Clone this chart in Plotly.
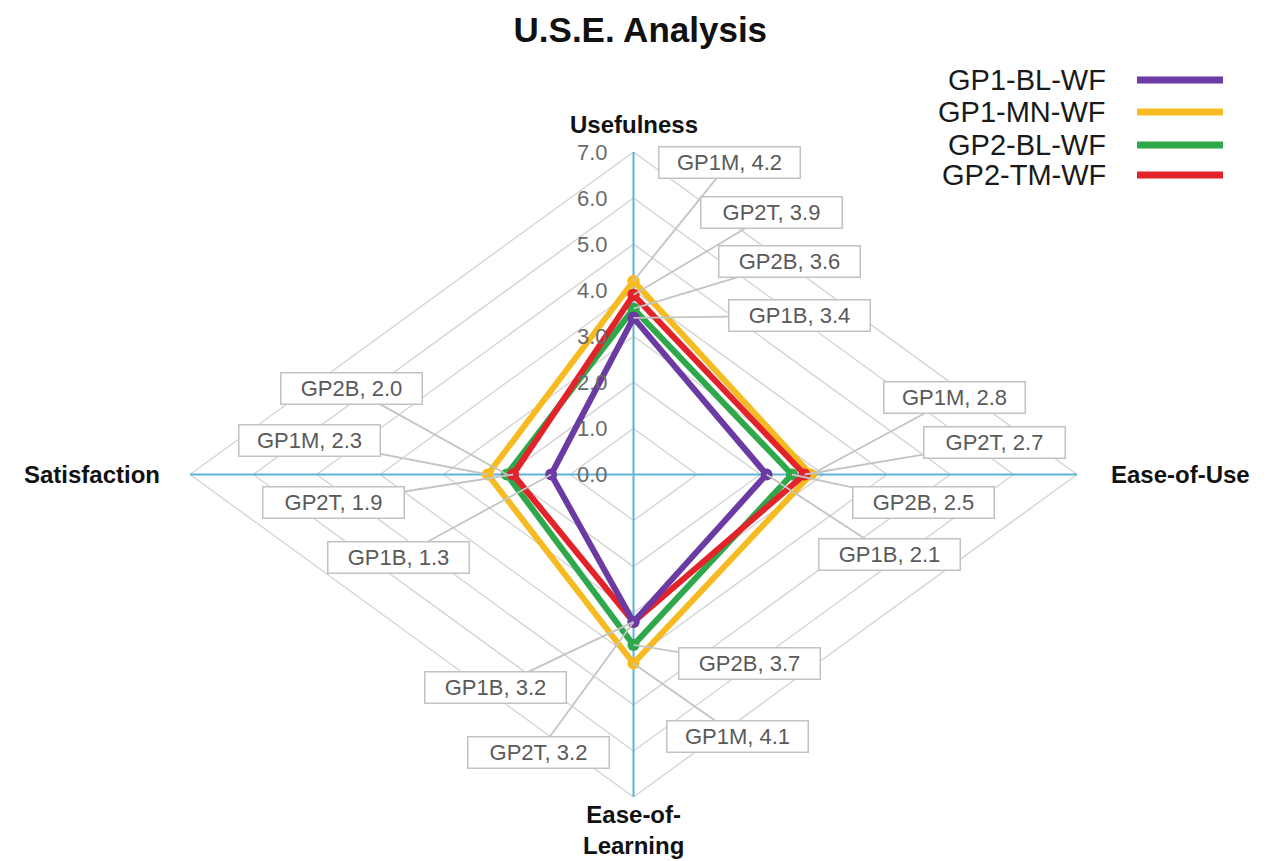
import plotly.graph_objects as go

# ---------------- data ----------------
chart_title = "U.S.E. Analysis"
axis_names = ["Usefulness", "Ease-of-Use", "Ease-of-Learning", "Satisfaction"]
axis_label_text = ["Usefulness", "Ease-of-Use", "Ease-of-<br>Learning", "Satisfaction"]
series_names = ["GP1-BL-WF", "GP1-MN-WF", "GP2-BL-WF", "GP2-TM-WF"]
short_names = ["GP1B", "GP1M", "GP2B", "GP2T"]
gp1_bl_wf = [3.4, 2.1, 3.2, 1.3]
gp1_mn_wf = [4.2, 2.8, 4.1, 2.3]
gp2_bl_wf = [3.6, 2.5, 3.7, 2.0]
gp2_tm_wf = [3.9, 2.7, 3.2, 1.9]
tick_values = [0, 1, 2, 3, 4, 5, 6, 7]

series_values = [gp1_bl_wf, gp1_mn_wf, gp2_bl_wf, gp2_tm_wf]

# ---------------- styles / layout ----------------
series_colors = ["#6b3aa3", "#f6bb21", "#2ea84a", "#e3232a"]
draw_order = [1, 2, 3, 0]
axis_dirs = [(0, 1), (1, 0), (0, -1), (-1, 0)]   # top, right, bottom, left
r_max = 7

# label box centres (data units of the chart plane), per series, per axis
label_pos = [
    [(2.62, 3.45), (4.04, -1.74), (-2.18, -4.62), (-3.71, -1.80)],   # GP1B
    [(1.51, 6.77), (5.06, 1.67), (1.64, -5.68), (-5.11, 0.74)],      # GP1M
    [(2.46, 4.62), (4.57, -0.61), (1.83, -4.10), (-4.45, 1.87)],     # GP2B
    [(2.18, 5.68), (5.69, 0.69), (-1.50, -6.03), (-4.73, -0.61)],    # GP2T
]

FONT = "Liberation Sans, Arial, sans-serif"
W, H = 1273, 861

fig = go.Figure()

# grid diamonds
for lv in tick_values[1:]:
    gx = [dx * lv for dx, dy in axis_dirs] + [axis_dirs[0][0] * lv]
    gy = [dy * lv for dx, dy in axis_dirs] + [axis_dirs[0][1] * lv]
    fig.add_trace(go.Scatter(x=gx, y=gy, mode="lines",
                             line=dict(color="#d2d2d2", width=1.3),
                             hoverinfo="skip", showlegend=False))

# axis spokes
for dx, dy in axis_dirs:
    fig.add_trace(go.Scatter(x=[0, dx * r_max], y=[0, dy * r_max], mode="lines",
                             line=dict(color="#5cb4d8", width=2),
                             hoverinfo="skip", showlegend=False))

# series
for i in draw_order:
    vals = series_values[i]
    xs = [dx * v for (dx, dy), v in zip(axis_dirs, vals)]
    ys = [dy * v for (dx, dy), v in zip(axis_dirs, vals)]
    xs.append(xs[0])
    ys.append(ys[0])
    fig.add_trace(go.Scatter(
        x=xs, y=ys, mode="lines+markers", name=series_names[i],
        line=dict(color=series_colors[i], width=6),
        marker=dict(color=series_colors[i], size=12),
        showlegend=False))

annotations = []

# tick labels along the vertical axis
for t in tick_values:
    annotations.append(dict(x=0, y=t, xref="x", yref="y", text=f"{t:.1f}",
                            showarrow=False, xanchor="right", yanchor="middle",
                            xshift=-24, font=dict(family=FONT, size=22, color="#6b6b6b")))

# axis category labels
axis_label_shift = [(0, 28), (103, 0), (0, -33), (-98, 0)]
for (dx, dy), txt, (sx, sy) in zip(axis_dirs, axis_label_text, axis_label_shift):
    annotations.append(dict(x=dx * r_max, y=dy * r_max, xref="x", yref="y", text=f"<b>{txt}</b>",
                            showarrow=False, xanchor="center", yanchor="middle",
                            xshift=sx, yshift=sy,
                            font=dict(family=FONT, size=24, color="#111111")))

# data callouts
for i in range(len(series_names)):
    for k, (dx, dy) in enumerate(axis_dirs):
        v = series_values[i][k]
        lx, ly = label_pos[i][k]
        annotations.append(dict(
            x=dx * v, y=dy * v, xref="x", yref="y",
            ax=lx, ay=ly, axref="x", ayref="y",
            text=f"{short_names[i]}, {v:.1f}",
            showarrow=True, arrowhead=0, arrowwidth=1.8, arrowcolor="#c4c4c4",
            standoff=0,
            bgcolor="white", bordercolor="#c2c2c2", borderwidth=1.5, borderpad=2,
            width=136, height=26,
            font=dict(family=FONT, size=22, color="#5a5a5a")))

# custom legend (text left, swatch right)
legend_y = [80, 112, 145, 175]
shapes = []
plot_l, plot_r, plot_t, plot_b = 190, 1077, 152, 797
def px_to_paper(px, py):
    return (px - plot_l) / (plot_r - plot_l), (plot_b - py) / (plot_b - plot_t)

for name, col, py in zip(series_names, series_colors, legend_y):
    x0, y0 = px_to_paper(1137, py)
    x1, _ = px_to_paper(1223, py)
    shapes.append(dict(type="line", xref="paper", yref="paper", x0=x0, x1=x1, y0=y0, y1=y0,
                       line=dict(color=col, width=7)))
    tx, _ = px_to_paper(1108, py)
    annotations.append(dict(x=tx, y=y0, xref="paper", yref="paper", text=name,
                            showarrow=False, xanchor="right", yanchor="middle",
                            font=dict(family=FONT, size=29, color="#1a1a1a")))

fig.update_layout(
    width=W, height=H,
    margin=dict(l=plot_l, r=W - plot_r, t=plot_t, b=H - plot_b),
    paper_bgcolor="white", plot_bgcolor="white",
    showlegend=False,
    title=dict(text=f"<b>{chart_title}</b>", x=0.503, xanchor="center",
               y=1 - 30 / H, yanchor="middle", yref="container",
               font=dict(family=FONT, size=35, color="#111111")),
    xaxis=dict(range=[-r_max, r_max], visible=False, fixedrange=True),
    yaxis=dict(range=[-r_max, r_max], visible=False, fixedrange=True),
    annotations=annotations,
    shapes=shapes,
)

fig.write_html("out.html", config={"displayModeBar": False},
               post_script="document.body.style.margin='0px';document.body.style.overflow='hidden';")
